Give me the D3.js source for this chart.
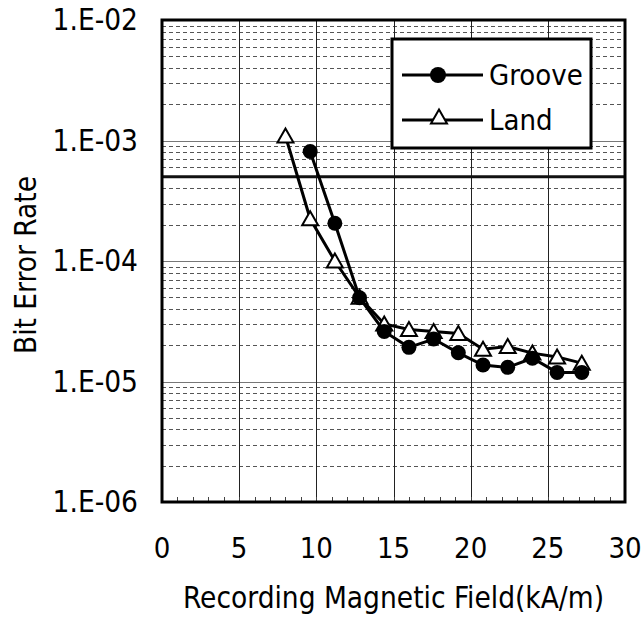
<!DOCTYPE html>
<html>
<head>
<meta charset="utf-8">
<script src="https://cdn.jsdelivr.net/npm/d3@7"></script>
<style>
  body { margin: 0; background: #fff; }
  text { font-family: "DejaVu Sans Condensed", "DejaVu Sans", sans-serif; font-stretch: condensed; fill: #000; }
</style>
</head>
<body>
<svg id="chart" width="644" height="622"></svg>
<script>
// data
var grooveX = [9.6, 11.2, 12.8, 14.4, 16.0, 17.6, 19.2, 20.8, 22.4, 24.0, 25.6, 27.2];
var grooveBER = [8.1e-4, 2.06e-4, 4.96e-5, 2.6e-5, 1.92e-5, 2.25e-5, 1.73e-5, 1.37e-5, 1.31e-5, 1.56e-5, 1.19e-5, 1.19e-5];
var landX = [8.0, 9.6, 11.2, 12.8, 14.4, 16.0, 17.6, 19.2, 20.8, 22.4, 24.0, 25.6, 27.2];
var landBER = [1.09e-3, 2.24e-4, 1.0e-4, 5.0e-5, 3.0e-5, 2.7e-5, 2.6e-5, 2.5e-5, 1.85e-5, 1.95e-5, 1.72e-5, 1.6e-5, 1.42e-5];
var threshold = 5e-4;
var xTicks = [0, 5, 10, 15, 20, 25, 30];
var yTicks = [1e-6, 1e-5, 1e-4, 1e-3, 1e-2];
var seriesNames = ["Groove", "Land"];

var svg = d3.select("#chart");
var pLeft = 162, pRight = 625, pTop = 20, pBottom = 502;

var x = d3.scaleLinear().domain([0, 30]).range([pLeft, pRight]);
var y = d3.scaleLog().domain([1e-6, 1e-2]).range([pBottom, pTop]);

var grid = svg.append("g");

// minor log grid lines (dashed)
var minors = [];
for (var dec = -6; dec < -2; dec++) {
    for (var m = 2; m <= 9; m++) minors.push(m * Math.pow(10, dec));
}
grid.selectAll("line.minor").data(minors).enter().append("line")
    .attr("class", "minor")
    .attr("x1", pLeft).attr("x2", pRight)
    .attr("y1", d => Math.round(y(d)) + 0.5).attr("y2", d => Math.round(y(d)) + 0.5)
    .attr("stroke", "#555").attr("stroke-width", 1)
    .attr("stroke-dasharray", "4,3");

// decade lines
grid.selectAll("line.decade").data(yTicks.slice(1, -1)).enter().append("line")
    .attr("class", "decade")
    .attr("x1", pLeft).attr("x2", pRight)
    .attr("y1", d => Math.round(y(d)) + 0.5).attr("y2", d => Math.round(y(d)) + 0.5)
    .attr("stroke", "#777").attr("stroke-width", 1.2);

// vertical grid
grid.selectAll("line.vert").data(xTicks.slice(1, -1)).enter().append("line")
    .attr("class", "vert")
    .attr("x1", d => Math.round(x(d)) + 0.5).attr("x2", d => Math.round(x(d)) + 0.5)
    .attr("y1", pTop).attr("y2", pBottom)
    .attr("stroke", "#222").attr("stroke-width", 1);

// small ticks on bottom axis
grid.selectAll("line.xminor").data(d3.range(1, 30)).enter().append("line")
    .attr("class", "xminor")
    .attr("x1", d => Math.round(x(d)) + 0.5).attr("x2", d => Math.round(x(d)) + 0.5)
    .attr("y1", pBottom).attr("y2", pBottom - 5)
    .attr("stroke", "#444").attr("stroke-width", 1);

// threshold line
svg.append("line")
    .attr("x1", pLeft).attr("x2", pRight)
    .attr("y1", y(threshold)).attr("y2", y(threshold))
    .attr("stroke", "#111").attr("stroke-width", 3);

// frame
svg.append("rect")
    .attr("x", pLeft).attr("y", pTop)
    .attr("width", pRight - pLeft).attr("height", pBottom - pTop)
    .attr("fill", "none").attr("stroke", "#000").attr("stroke-width", 3);

// axes labels
svg.selectAll("text.ytick").data(yTicks).enter().append("text")
    .attr("class", "ytick")
    .attr("x", 138).attr("y", d => y(d))
    .attr("text-anchor", "end").attr("dominant-baseline", "central")
    .style("font-size", "29.5px")
    .text(d => "1.E-0" + Math.round(-Math.log10(d)));

svg.selectAll("text.xtick").data(xTicks).enter().append("text")
    .attr("class", "xtick")
    .attr("x", d => x(d)).attr("y", 558)
    .attr("text-anchor", "middle")
    .style("font-size", "29px")
    .text(d => d);

svg.append("text")
    .attr("x", (pLeft + pRight) / 2).attr("y", 608)
    .attr("text-anchor", "middle")
    .style("font-size", "29.5px")
    .text("Recording Magnetic Field(kA/m)");

svg.append("text")
    .attr("transform", "translate(36,265) rotate(-90)")
    .attr("text-anchor", "middle")
    .style("font-size", "29.5px")
    .text("Bit Error Rate");

// series
var line = d3.line().x(d => x(d[0])).y(d => y(d[1]));
var tri = "M0,-7.5L8,6.5L-8,6.5Z";

var landPts = d3.zip(landX, landBER);
var groovePts = d3.zip(grooveX, grooveBER);

svg.append("path").datum(landPts).attr("d", line)
    .attr("fill", "none").attr("stroke", "#000").attr("stroke-width", 3);
svg.selectAll("path.tri").data(landPts).enter().append("path")
    .attr("class", "tri")
    .attr("transform", d => "translate(" + x(d[0]) + "," + y(d[1]) + ")")
    .attr("d", tri)
    .attr("fill", "#fff").attr("stroke", "#000").attr("stroke-width", 2);

svg.append("path").datum(groovePts).attr("d", line)
    .attr("fill", "none").attr("stroke", "#000").attr("stroke-width", 3);
svg.selectAll("circle.groove").data(groovePts).enter().append("circle")
    .attr("class", "groove")
    .attr("cx", d => x(d[0])).attr("cy", d => y(d[1]))
    .attr("r", 7.5).attr("fill", "#000");

// legend
var lg = svg.append("g");
lg.append("rect").attr("x", 392).attr("y", 39).attr("width", 199).attr("height", 109)
    .attr("fill", "#fff").attr("stroke", "#000").attr("stroke-width", 3);
var legendY = [75, 120];
seriesNames.forEach(function (name, i) {
    var ly = legendY[i];
    lg.append("line").attr("x1", 402).attr("x2", 483).attr("y1", ly).attr("y2", ly)
        .attr("stroke", "#000").attr("stroke-width", 3);
    if (i == 0) {
        lg.append("circle").attr("cx", 438).attr("cy", ly).attr("r", 8).attr("fill", "#000");
    } else {
        lg.append("path").attr("transform", "translate(439," + (ly - 3) + ")").attr("d", tri)
            .attr("fill", "#fff").attr("stroke", "#000").attr("stroke-width", 2);
    }
    lg.append("text").attr("x", 489).attr("y", ly)
        .attr("dominant-baseline", "central")
        .style("font-size", "29px")
        .text(name);
});
</script>
</body>
</html>
